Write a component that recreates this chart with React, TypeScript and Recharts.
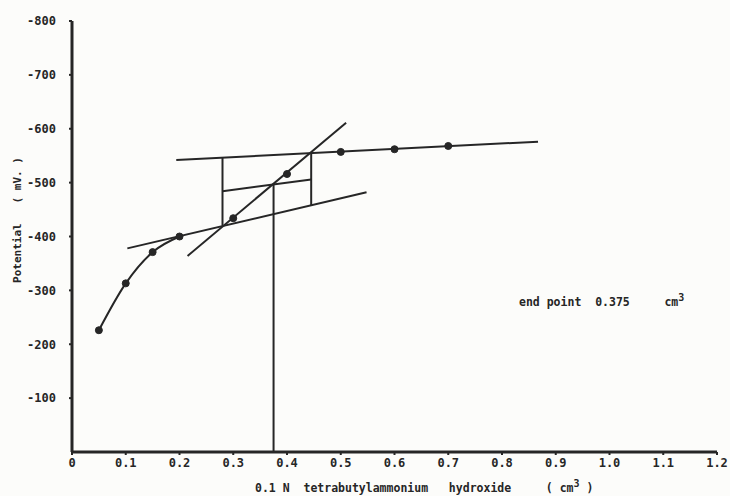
import React from "react";
import { ComposedChart, Line, XAxis, YAxis } from "recharts";

// titration readings: volume of titrant (cm3) vs potential (mV)
const volume = [0.05, 0.1, 0.15, 0.2, 0.3, 0.4, 0.5, 0.6, 0.7];
const potential = [-226, -313, -371, -400, -434, -516, -557, -562, -568];
const curvePoints = 4; // smooth curve only through the first readings

// construction lines used to find the end point
const lowerTangentX = [0.103, 0.548];
const lowerTangentY = [-378, -482];
const steepTangentX = [0.215, 0.51];
const steepTangentY = [-364, -611];
const upperTangentX = [0.194, 0.867];
const upperTangentY = [-542, -576];
const leftBracketX = [0.28, 0.28];
const leftBracketY = [-547, -420];
const rightBracketX = [0.445, 0.445];
const rightBracketY = [-554, -458];
const midLineX = [0.28, 0.445];
const midLineY = [-484, -506];
const endPointX = [0.375, 0.375];
const endPointY = [-498, 0];

const xTicks = [0, 0.1, 0.2, 0.3, 0.4, 0.5, 0.6, 0.7, 0.8, 0.9, 1.0, 1.1, 1.2];
const yTicks = [-100, -200, -300, -400, -500, -600, -700, -800];

const ink = "#262626";
const mono = "'DejaVu Sans Mono', 'Liberation Mono', monospace";

const pairs = (xs: number[], ys: number[]) => xs.map((x, i) => ({ x, y: ys[i] }));

const readings = pairs(volume, potential);
const curve = readings.slice(0, curvePoints);

const segments = [
	pairs(lowerTangentX, lowerTangentY),
	pairs(steepTangentX, steepTangentY),
	pairs(upperTangentX, upperTangentY),
	pairs(leftBracketX, leftBracketY),
	pairs(rightBracketX, rightBracketY),
	pairs(midLineX, midLineY),
	pairs(endPointX, endPointY),
];

const tickStyle = { fill: ink, fontSize: 12, fontWeight: 700, fontFamily: mono };

export default function App() {
	return (
		<div
			style={{
				position: "absolute",
				left: 0,
				top: 0,
				width: 730,
				height: 496,
				background: "#fcfcfa",
				fontFamily: mono,
				color: ink,
			}}>
			<ComposedChart
				width={730}
				height={496}
				margin={{ top: 21, right: 13, bottom: 0, left: 0 }}>
				<XAxis
					dataKey='x'
					type='number'
					domain={[0, 1.2]}
					ticks={xTicks}
					allowDataOverflow
					height={44}
					axisLine={{ stroke: ink, strokeWidth: 3 }}
					tickLine={{ stroke: ink, strokeWidth: 2 }}
					tickSize={3}
					tickMargin={3}
					tick={tickStyle}
					tickFormatter={(v: number) => (v === 0 ? "0" : v.toFixed(1))}
				/>
				<YAxis
					dataKey='y'
					type='number'
					domain={[-800, 0]}
					reversed
					ticks={yTicks}
					allowDataOverflow
					width={72}
					axisLine={{ stroke: ink, strokeWidth: 3 }}
					tickLine={{ stroke: ink, strokeWidth: 2 }}
					tickSize={3}
					tickMargin={13}
					tick={tickStyle}
				/>
				{segments.map((seg, i) => (
					<Line
						key={`seg-${i}`}
						data={seg}
						dataKey='y'
						type='linear'
						stroke={ink}
						strokeWidth={2}
						dot={false}
						activeDot={false}
						isAnimationActive={false}
					/>
				))}
				<Line
					data={curve}
					dataKey='y'
					type='monotone'
					stroke={ink}
					strokeWidth={2}
					dot={false}
					activeDot={false}
					isAnimationActive={false}
				/>
				<Line
					data={readings}
					dataKey='y'
					stroke='none'
					dot={{ r: 3.5, fill: ink, stroke: ink, strokeWidth: 1 }}
					activeDot={false}
					isAnimationActive={false}
				/>
			</ComposedChart>

			<div
				style={{
					position: "absolute",
					left: 17,
					top: 220,
					transform: "translate(-50%, -50%) rotate(-90deg)",
					whiteSpace: "pre",
					fontSize: 11,
					fontWeight: 700,
				}}>
				{"Potential   ( mV. )"}
			</div>

			<div
				style={{
					position: "absolute",
					left: 255,
					top: 478,
					whiteSpace: "pre",
					fontSize: 11.5,
					fontWeight: 700,
				}}>
				{"0.1 N  tetrabutylammonium   hydroxide     ( cm"}
				<sup style={{ fontSize: 10 }}>3</sup>
				{" )"}
			</div>

			<div
				style={{
					position: "absolute",
					left: 519,
					top: 292,
					whiteSpace: "pre",
					fontSize: 11.5,
					fontWeight: 700,
				}}>
				{"end point  0.375     cm"}
				<sup style={{ fontSize: 10 }}>3</sup>
			</div>
		</div>
	);
}
